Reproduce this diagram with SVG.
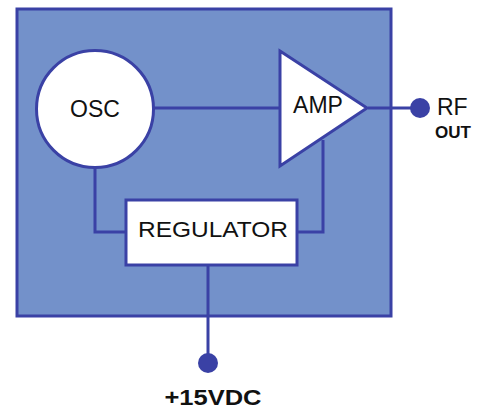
<svg xmlns="http://www.w3.org/2000/svg" width="487" height="411" viewBox="0 0 487 411">
<style>
.ln{fill:none;stroke:#3a41a5;stroke-width:3}
.blk{fill:#fff;stroke:#3a41a5;stroke-width:3}
.dot{fill:#3a41a5}
.t{font-family:"Liberation Sans",Arial,sans-serif;fill:#111}
</style>
<rect width="487" height="411" fill="#fff"/>
<g id="board"><rect x="17" y="9" width="374" height="307" fill="#7391ca" stroke="#3a41a5" stroke-width="3"/></g>
<g id="connectors">
<path class="ln" d="M153 108H279"/>
<path class="ln" d="M368 108H420"/>
<path class="ln" d="M95 168V232H126"/>
<path class="ln" d="M297 232H323V140"/>
<path class="ln" d="M208 265V363"/>
</g>
<g id="osc"><circle class="blk" cx="95" cy="109" r="58.5"/><text class="t" x="95" y="117" font-size="23" text-anchor="middle">OSC</text></g>
<g id="amp"><path class="blk" d="M280 51L367 108L280 166Z"/><text class="t" x="318" y="113" font-size="23" text-anchor="middle">AMP</text></g>
<g id="regulator"><rect class="blk" x="126" y="200" width="171" height="65"/><text class="t" x="213" y="237" font-size="22" text-anchor="middle" textLength="150" lengthAdjust="spacingAndGlyphs">REGULATOR</text></g>
<g id="rfout"><circle class="dot" cx="420" cy="108" r="10"/><text class="t" x="437" y="115" font-size="23">RF</text><text class="t" x="435" y="138" font-size="17" font-weight="bold">OUT</text></g>
<g id="power"><circle class="dot" cx="208" cy="363" r="10"/><text class="t" x="213" y="405" font-size="22" font-weight="bold" text-anchor="middle" textLength="97" lengthAdjust="spacingAndGlyphs">+15VDC</text></g>
</svg>
